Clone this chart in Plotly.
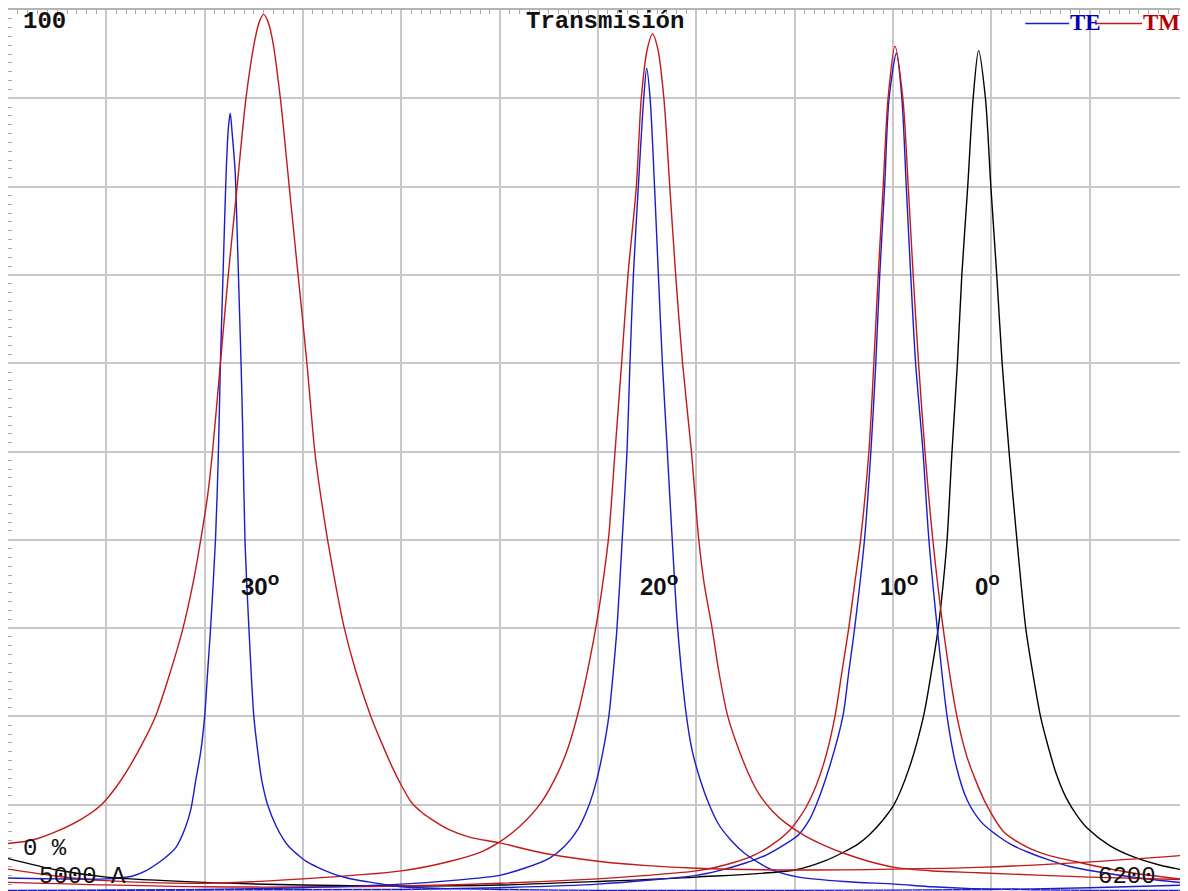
import plotly.graph_objects as go

# Transmission (%) vs wavelength (Angstrom)
wl_30_te = [5000, 5050, 5100, 5126, 5140, 5150, 5162, 5171, 5180, 5186, 5191, 5196, 5200, 5203,
            5206, 5211, 5214, 5216, 5218, 5220, 5222, 5224, 5226, 5228, 5231, 5233, 5235, 5237,
            5238.5, 5241, 5245, 5250, 5254, 5258, 5264, 5273, 5280, 5286, 5295, 5303, 5315, 5330,
            5345, 5364, 5400, 5450, 5500, 5600, 5800, 6000, 6100, 6200]
t_30_te = [1.7, 1.6, 1.6, 1.9, 2.5, 3.2, 4.2, 5.2, 7.3, 9.5, 12.8, 16, 20, 25,
           30, 40, 50, 60, 67.5, 75, 82, 86.5, 88.3, 86, 81.7, 75, 67.5, 60,
           53.4, 40, 30, 20, 16, 12.8, 10, 7.5, 6.1, 5.2, 4.3, 3.6, 2.9, 2.2,
           1.7, 1.3, 0.7, 0.5, 0.4, 0.3, 0.3, 0.4, 0.6, 0.9]

wl_30_tm = [5000, 5025, 5050, 5075, 5095, 5110, 5123, 5137, 5150, 5165, 5178, 5188, 5196, 5203,
            5208, 5216, 5224, 5233, 5242, 5251, 5256, 5260, 5264, 5269, 5277, 5286, 5295, 5304,
            5312, 5318, 5325, 5333, 5342, 5354, 5369, 5380, 5391, 5400, 5410, 5420, 5430, 5448,
            5470, 5499, 5545, 5600, 5650, 5700, 5804, 5902, 5986, 6098, 6200]
t_30_tm = [5.6, 6.0, 7.0, 8.4, 10.0, 12.0, 14.2, 17, 20, 25, 30, 35, 40, 45,
           50, 60, 70, 80, 90, 96.6, 98.8, 99.5, 98.8, 96.6, 90, 80, 70, 60,
           50, 45, 40, 35, 30, 25, 20, 17, 14.2, 12.2, 10.3, 9.2, 8.4, 7.2,
           6.3, 5.7, 4.5, 3.6, 3.1, 2.8, 2.6, 2.7, 2.9, 3.5, 4.3]

wl_20_te = [5000, 5100, 5200, 5300, 5400, 5450, 5500, 5525, 5550, 5566, 5580, 5590, 5598, 5605,
            5611, 5615.5, 5619.3, 5624.6, 5629.5, 5632.5, 5636, 5641, 5646.5, 5649.5, 5653, 5657.5,
            5661.4, 5665.5, 5670.5, 5675.5, 5681, 5690, 5696, 5704, 5712, 5722, 5735, 5749, 5770,
            5785, 5804, 5850, 5902, 5940, 5980, 6100, 6200]
t_20_te = [0.2, 0.3, 0.4, 0.6, 1.0, 1.4, 2.0, 2.8, 3.9, 5.3, 7.3, 9.7, 12.5, 16,
           20, 25, 30, 40, 50, 60, 70, 80, 90, 93.4, 90, 80,
           70, 60, 50, 40, 30, 20, 16, 12.8, 10.3, 7.9, 6.0, 4.5, 3.0,
           2.3, 1.8, 1.3, 1.0, 0.7, 0.5, 0.3, 0.3]

wl_20_tm = [5000, 5050, 5100, 5200, 5300, 5400, 5450, 5480, 5500, 5520, 5542, 5560, 5570,
            5580, 5590, 5600, 5606, 5611, 5617, 5624, 5630.5, 5639, 5644, 5650, 5655.5, 5661, 5667,
            5673, 5679, 5686, 5695, 5702.5, 5708, 5716, 5723, 5732, 5744, 5756, 5765, 5778, 5790,
            5810, 5830, 5850, 5875, 5902, 5940, 5986, 6100, 6200]
t_20_tm = [2.7, 1.9, 1.4, 1.1, 1.6, 2.5, 3.6, 4.6, 5.8, 7.5, 10.2, 13.8, 16.6,
           20.5, 25.5, 31.5, 36, 40.5, 49.5, 60, 70, 80, 90, 95.5, 97.3, 95.5, 90,
           80, 70, 60, 50, 40, 35, 30, 25, 20, 16, 12.8, 11, 9.2, 8.0,
           6.5, 5.4, 4.5, 3.6, 2.9, 2.5, 2.3, 1.8, 1.5]

wl_10_te = [5000, 5400, 5500, 5600, 5700, 5722, 5750, 5771, 5790, 5804, 5814, 5822, 5836, 5849,
            5855, 5861, 5871, 5877.5, 5882.5, 5886.5, 5891.5, 5896, 5903.5, 5909, 5913.5, 5918,
            5923, 5930.5, 5936.5, 5945, 5955, 5964, 5975.5, 5990, 6005, 6020, 6040, 6057, 6080,
            6108, 6150, 6200]
t_10_te = [0.3, 0.4, 0.6, 1.0, 2.0, 2.5, 3.4, 4.3, 5.5, 6.6, 8.1, 10, 14.5, 20,
           25, 30, 40, 50, 60, 70, 80, 90, 95.1, 90, 80, 70,
           60, 50, 40, 30, 20, 14.5, 10.5, 8.0, 6.6, 5.5, 4.5, 3.8, 3.0,
           2.4, 1.7, 1.1]

wl_10_tm = [5000, 5200, 5400, 5500, 5600, 5650, 5700, 5730, 5753, 5775, 5794, 5804, 5812, 5822,
            5832, 5841, 5848, 5855, 5861, 5867, 5875.5, 5880.5, 5885, 5890, 5895, 5902, 5910,
            5915.5, 5920.5, 5926, 5932.5, 5940.5, 5951, 5965, 5975, 5985, 5995, 6012, 6025, 6040,
            6060, 6080, 6100, 6142, 6200]
t_10_tm = [1.2, 0.7, 0.8, 1.1, 1.6, 2.0, 2.5, 3.2, 4.0, 5.3, 7.0, 8.4, 9.8, 12.2,
           15.6, 20, 25, 30, 35, 40, 50, 60, 70, 80, 90, 95.9, 90,
           80, 70, 60, 50, 40, 30, 20, 15.5, 12.5, 10, 7.0, 5.9, 5.0,
           4.2, 3.7, 3.2, 2.3, 1.5]

wl_0 = [5000, 5050, 5100, 5200, 5300, 5400, 5500, 5600, 5700, 5800, 5830, 5851, 5865, 5876,
        5890, 5901, 5916, 5931, 5939, 5946, 5951, 5955, 5960, 5965.5, 5970, 5976, 5981.5, 5987,
        5994, 5999.5, 6005.5, 6011, 6018, 6026, 6035, 6042, 6050, 6058, 6066, 6076, 6087, 6098,
        6120, 6142, 6170, 6200]
t_0 = [3.9, 2.6, 1.8, 1.2, 0.9, 0.8, 0.9, 1.3, 1.8, 2.6, 3.6, 4.7, 5.6, 6.6,
       8.3, 10, 14, 20, 25, 30, 35, 40, 50, 60, 70, 80, 90, 95.4,
       90, 80, 70, 60, 50, 40, 30, 25, 20, 16.5, 13.5, 10.8, 8.8, 7.3,
       5.4, 4.2, 3.2, 2.5]

angle_labels = ["30", "20", "10", "0"]
angle_label_wl = [5235, 5641, 5885, 5981]
angle_label_t = 35

BLUE = "#1c1cc8"
RED = "#c01a1a"
GRID = "#c8c8c8"

# the page puts the figure 8 px in from the top-left corner
OFF = 8
W, H = 1182, 885


def px(x):
    return (x - OFF) / W


def py(y):
    return (OFF + H - y) / H


fig = go.Figure()

series = [
    (wl_0, t_0, "black"),
    (wl_10_te, t_10_te, BLUE),
    (wl_10_tm, t_10_tm, RED),
    (wl_20_te, t_20_te, BLUE),
    (wl_20_tm, t_20_tm, RED),
    (wl_30_te, t_30_te, BLUE),
    (wl_30_tm, t_30_tm, RED),
]
for xs, ys, col in series:
    fig.add_trace(go.Scatter(
        x=xs, y=ys, mode="lines",
        line=dict(color=col, width=1.4, shape="spline", smoothing=0.8),
        showlegend=False, hoverinfo="x+y",
    ))

# angle labels (digits + raised degree ring)
for lab, xw in zip(angle_labels, angle_label_wl):
    fig.add_annotation(
        x=xw, y=angle_label_t, xref="x", yref="y", xanchor="left", yanchor="middle",
        text="<b>" + lab + "<sup><span style='font-size:19px'>o</span></sup></b>",
        showarrow=False,
        font=dict(family="Liberation Sans", size=24, color="#111111"),
    )

mono = "Liberation Mono"
texts = [
    ("<b>100</b>", 21, 20, "left"),
    ("<b>Transmisión</b>", 606, 20, "center"),
    ("0 %", 21, 848, "left"),
    ("5000 A", 37, 876, "left"),
    ("6200", 1098, 876, "left"),
]
for t, x, y, anc in texts:
    fig.add_annotation(
        x=px(x), y=py(y), xref="paper", yref="paper", xanchor=anc, yanchor="middle",
        text=t, showarrow=False, font=dict(family=mono, size=24, color="#111111"),
    )

# legend drawn like the original: line + label
fig.add_shape(type="line", xref="paper", yref="paper",
              x0=px(1027), x1=px(1071), y0=py(21.5), y1=py(21.5),
              line=dict(color=BLUE, width=1.6))
fig.add_shape(type="line", xref="paper", yref="paper",
              x0=px(1098), x1=px(1144), y0=py(21.5), y1=py(21.5),
              line=dict(color=RED, width=1.6))
fig.add_annotation(x=px(1070), y=py(21), xref="paper", yref="paper", xanchor="left",
                   yanchor="middle", text="<b>TE</b>", showarrow=False,
                   font=dict(family="Liberation Serif", size=23, color="#0000b4"))
fig.add_annotation(x=px(1143), y=py(21), xref="paper", yref="paper", xanchor="left",
                   yanchor="middle", text="<b>TM</b>", showarrow=False,
                   font=dict(family="Liberation Serif", size=23, color="#b40000"))

fig.update_layout(
    width=W, height=H,
    margin=dict(l=0, r=0, t=0, b=0),
    plot_bgcolor="#fefefe",
    paper_bgcolor="#fefefe",
    showlegend=False,
)
fig.update_xaxes(
    range=[5000, 6200], dtick=100, tick0=5000,
    showgrid=True, gridcolor=GRID, gridwidth=2,
    showticklabels=False, ticks="", zeroline=False,
    showline=True, linecolor="#b4b4b4", linewidth=2, mirror="allticks",
    minor=dict(dtick=10, tick0=5000, ticks="inside", ticklen=4, tickcolor="#a8a8a8",
               tickwidth=1, showgrid=False),
)
fig.update_yaxes(
    range=[0, 100], dtick=10, tick0=0,
    showgrid=True, gridcolor=GRID, gridwidth=2,
    showticklabels=False, ticks="", zeroline=False,
    showline=True, linecolor="#b4b4b4", linewidth=2, mirror="allticks",
    minor=dict(dtick=1, tick0=0, ticks="inside", ticklen=4, tickcolor="#a8a8a8",
               tickwidth=1, showgrid=False),
)

fig.write_html("out.html")
